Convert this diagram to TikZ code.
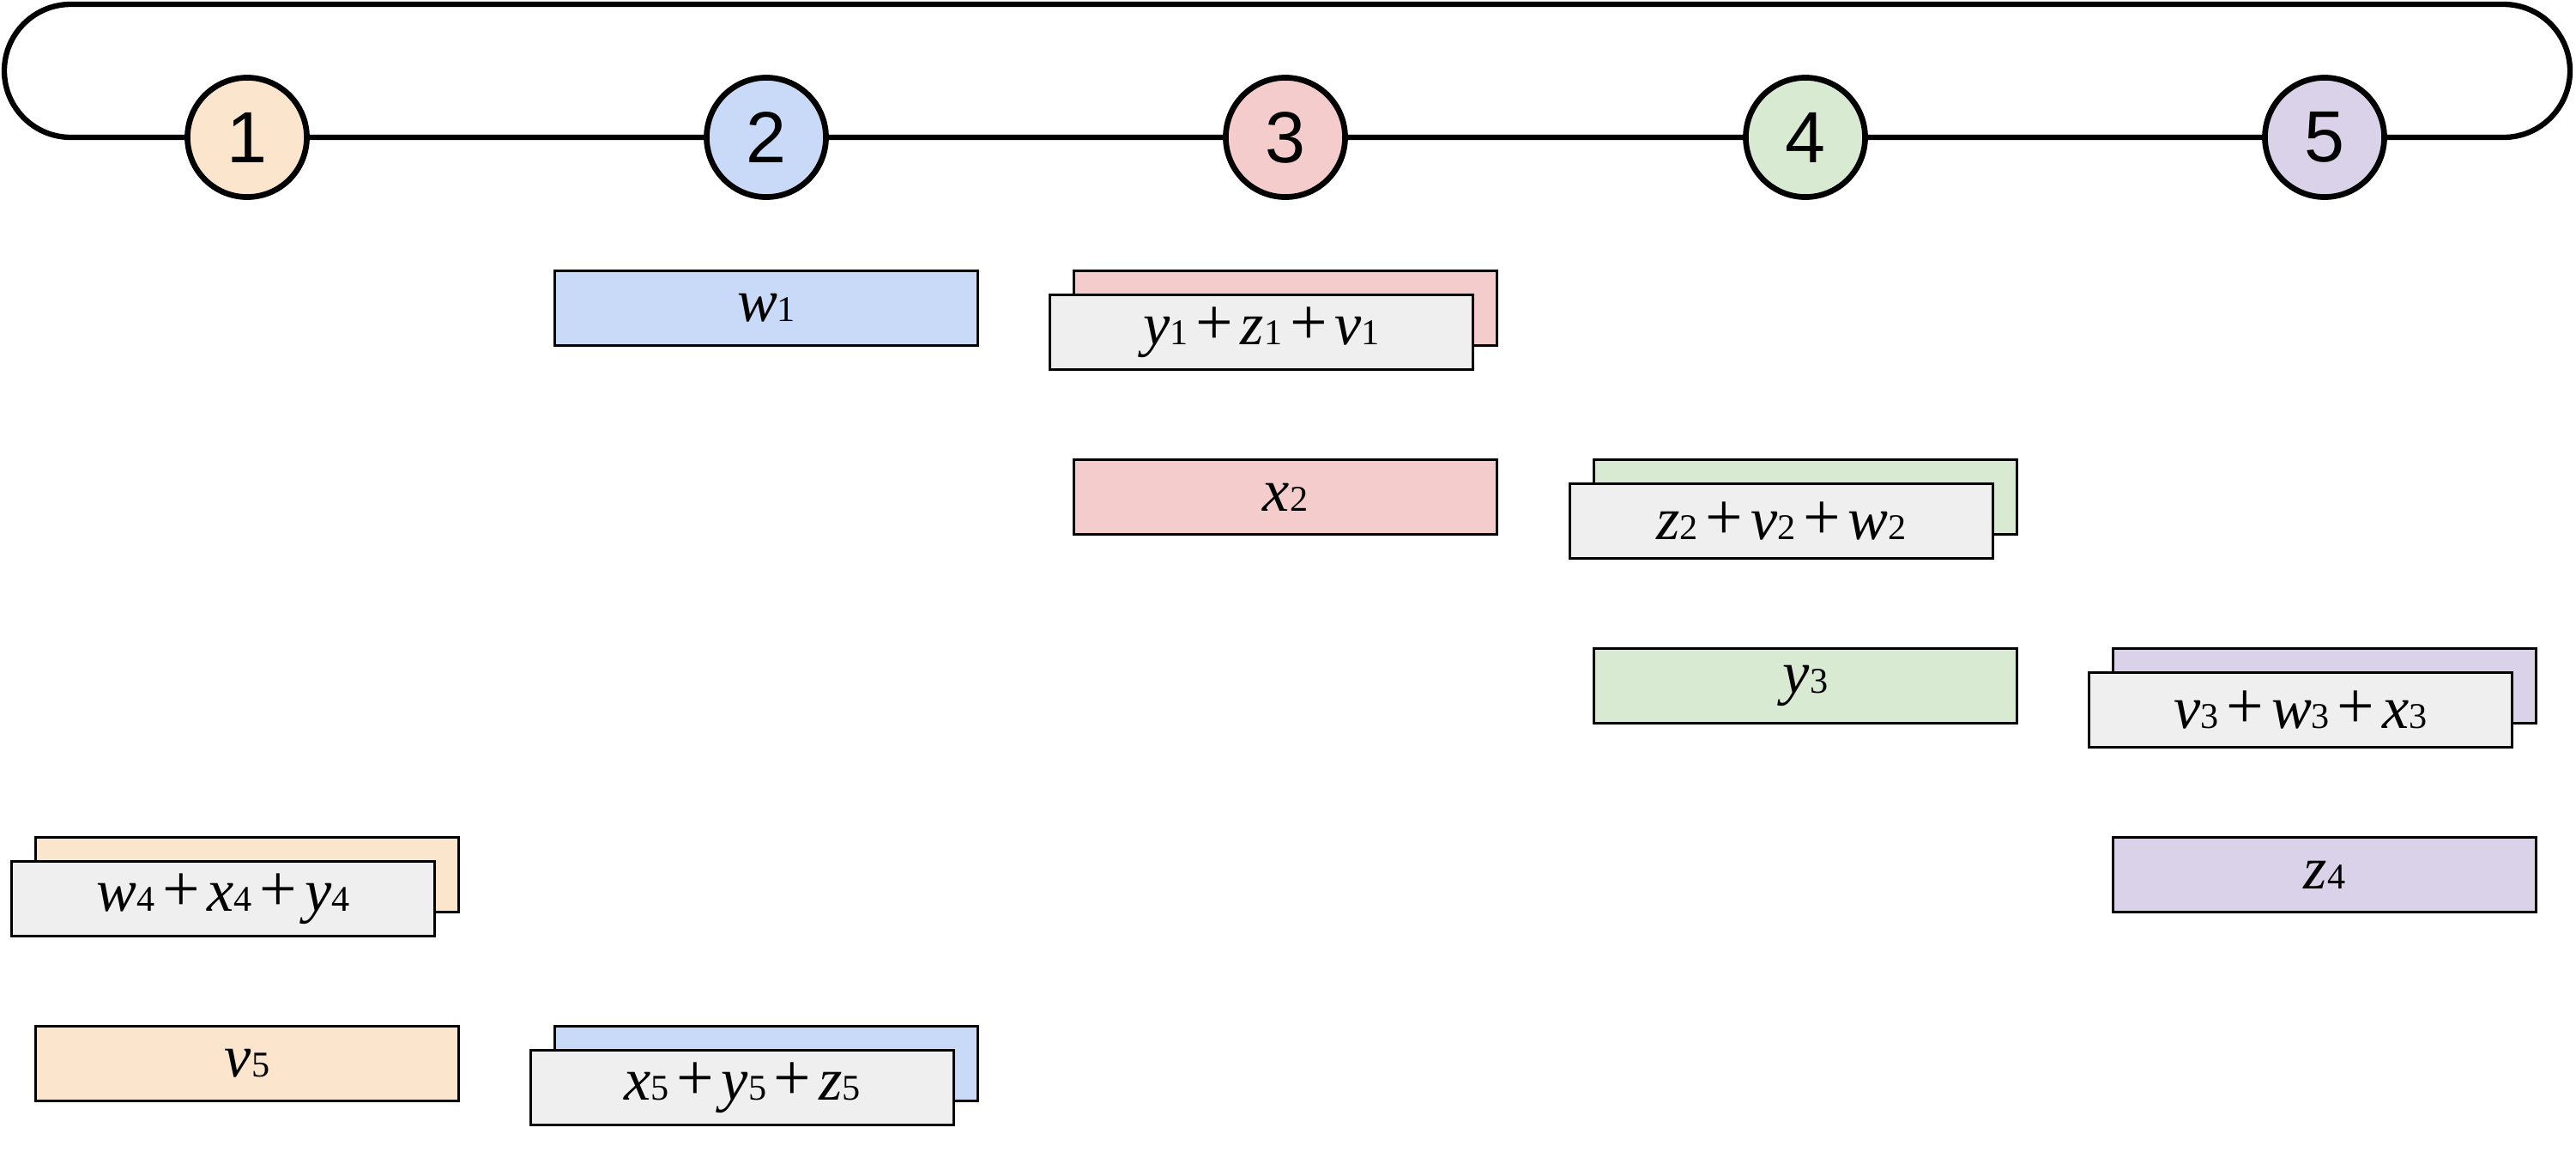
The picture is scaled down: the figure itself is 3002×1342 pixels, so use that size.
\documentclass[tikz,border=0pt]{standalone}
\usepackage{fontspec}
\setmainfont{Liberation Serif}
\newfontfamily\stopfont{Liberation Sans}
\usetikzlibrary{positioning}

\definecolor{peach}{HTML}{FCE5CD}
\definecolor{sky}{HTML}{C9DAF8}
\definecolor{rose}{HTML}{F4CCCC}
\definecolor{mint}{HTML}{D9EAD3}
\definecolor{lilac}{HTML}{D9D2E9}
\definecolor{paper}{HTML}{EFEFEF}

\newcommand{\vr}[2]{\textit{#1}{\fontsize{12}{12}\selectfont #2}}
\newcommand{\pl}{\kern2.5pt{\fontsize{22}{22}\selectfont+}\kern2.5pt}

\tikzset{
	track/.style={line width=1.8pt, rounded corners=0.775cm},
	stop/.style={circle, draw, line width=1.9pt, minimum size=1.39cm, inner sep=0pt,
		font=\stopfont\fontsize{24}{24}\selectfont},
	blk/.style={draw, line width=0.85pt, minimum width=4.93cm, minimum height=0.87cm,
		inner sep=0pt, font=\fontsize{20}{20}\selectfont},
	sum/.style={blk, fill=paper},
}

\begin{document}
\begin{tikzpicture}[x=0.01cm, y=-0.01cm]
		%%%%% START %%%%%
		\useasboundingbox (0,0) rectangle (3002,1342);
		
		% ring
		\coordinate (tl) at (5,5);
		\coordinate (br) at (2995,160);
		\draw[track] (tl) rectangle (br);
		
		\node[stop, fill=peach] (c1) at (288,160) {1};
		\node[stop, fill=sky] (c2) at (893,160) {2};
		\node[stop, fill=rose] (c3) at (1498,160) {3};
		\node[stop, fill=mint] (c4) at (2104,160) {4};
		\node[stop, fill=lilac] (c5) at (2709,160) {5};
		
		% row 1
		\node[blk, fill=sky] (w1) at (893,359) {\vr{w}{1}};
		\node[blk, fill=rose] (s1b) at (1498,359) {};
		\node[sum] (s1) at ([shift={(-28,28)}]s1b) {\vr{y}{1}\pl\vr{z}{1}\pl\vr{v}{1}};
		
		% row 2
		\node[blk, fill=rose] (x2) at (1498,579) {\vr{x}{2}};
		\node[blk, fill=mint] (s2b) at (2104,579) {};
		\node[sum] (s2) at ([shift={(-28,28)}]s2b) {\vr{z}{2}\pl\vr{v}{2}\pl\vr{w}{2}};
		
		% row 3
		\node[blk, fill=mint] (y3) at (2104,799) {\vr{y}{3}};
		\node[blk, fill=lilac] (s3b) at (2709,799) {};
		\node[sum] (s3) at ([shift={(-28,28)}]s3b) {\vr{v}{3}\pl\vr{w}{3}\pl\vr{x}{3}};
		
		% row 4
		\node[blk, fill=lilac] (z4) at (2709,1019) {\vr{z}{4}};
		\node[blk, fill=peach] (s4b) at (288,1019) {};
		\node[sum] (s4) at ([shift={(-28,28)}]s4b) {\vr{w}{4}\pl\vr{x}{4}\pl\vr{y}{4}};
		
		% row 5
		\node[blk, fill=peach] (v5) at (288,1239) {\vr{v}{5}};
		\node[blk, fill=sky] (s5b) at (893,1239) {};
		\node[sum] (s5) at ([shift={(-28,28)}]s5b) {\vr{x}{5}\pl\vr{y}{5}\pl\vr{z}{5}};
		
		%%%%% END %%%%%
	\end{tikzpicture}
\end{document}
